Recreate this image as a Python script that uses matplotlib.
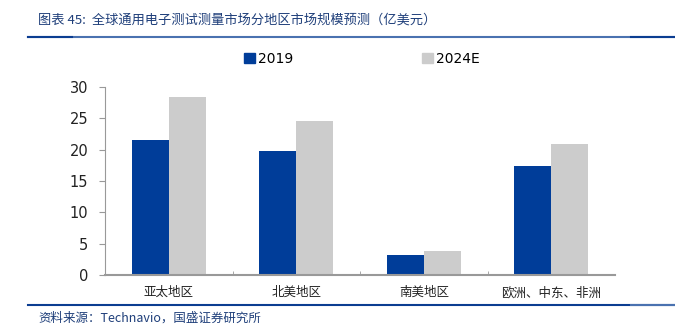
import matplotlib
matplotlib.use("Agg")
import matplotlib.pyplot as plt
from matplotlib.lines import Line2D
import numpy as np

plt.rcParams['font.family'] = ['Noto Sans CJK SC', 'DejaVu Sans']

categories = ["亚太地区", "北美地区", "南美地区", "欧洲、中东、非洲"]
series_names = ["2019", "2024E"]
values_2019 = [21.5, 19.8, 3.2, 17.4]
values_2024 = [28.4, 24.6, 3.9, 20.9]
yticks = [0, 5, 10, 15, 20, 25, 30]

title = "图表 45:  全球通用电子测试测量市场分地区市场规模预测（亿美元）"
source = "资料来源：Technavio，国盛证券研究所"

c1 = "#003D99"
c2 = "#CCCCCC"

fig = plt.figure(figsize=(6.75, 3.36), dpi=100)
ax = fig.add_axes([105/675, 1-275/336, 510/675, 188/336])

x = np.arange(len(categories))
w = 0.29
ax.bar(x - w/2, values_2019, w, color=c1, label=series_names[0])
ax.bar(x + w/2, values_2024, w, color=c2, label=series_names[1])

ax.set_xlim(-0.5, len(categories) - 0.5)
ax.set_ylim(0, 30)
ax.set_yticks(yticks)
ax.set_yticklabels([str(t) for t in yticks], fontsize=10.5, color="#222222",
                   family=['DejaVu Sans'])
ax.set_xticks(x)
ax.set_xticklabels(categories, fontsize=9, color="#222222")
ax.set_xticks(np.arange(0.5, len(categories) - 0.5, 1), minor=True)
ax.tick_params(axis='x', which='major', length=0, pad=8)
ax.tick_params(axis='x', which='minor', length=3, direction='in', color="#999999")
ax.tick_params(axis='y', length=4, color="#999999", pad=8)
for s in ['top', 'right']:
    ax.spines[s].set_visible(False)
ax.spines['left'].set_color("#999999")
ax.spines['bottom'].set_color("#999999")
ax.spines['bottom'].set_linewidth(1.5)

handles = [plt.Rectangle((0, 0), 1, 1, color=c1), plt.Rectangle((0, 0), 1, 1, color=c2)]
leg = fig.legend(handles, series_names, loc='center', bbox_to_anchor=(362/675, 1-59/336),
                 ncol=2, frameon=False, handlelength=0.8, handleheight=0.8,
                 handletextpad=0.2, columnspacing=9.3, prop={'family': 'DejaVu Sans', 'size': 10})

fig.text(38/675, 1-20/336, title, fontsize=9.5, color="#1F3F7A", style='italic',
         va='center', ha='left')
line_c = "#4A72B0"
dark_c = "#0B3D91"
yt = 1 - 37/336
fig.add_artist(Line2D([28/675, 674/675], [yt, yt], color=line_c, lw=1.5))
fig.add_artist(Line2D([28/675, 72/675], [yt, yt], color=dark_c, lw=1.5))
fig.add_artist(Line2D([631/675, 674/675], [yt, yt], color=dark_c, lw=1.5))
yb = 1 - 305/336
fig.add_artist(Line2D([28/675, 674/675], [yb, yb], color=dark_c, lw=1.5))
fig.add_artist(Line2D([631/675, 674/675], [yb, yb], color=line_c, lw=1.5))
fig.text(38/675, 1-318/336, source, fontsize=9, color="#1F3F7A", style='italic',
         va='center', ha='left')

fig.savefig("out.png", dpi=100)
